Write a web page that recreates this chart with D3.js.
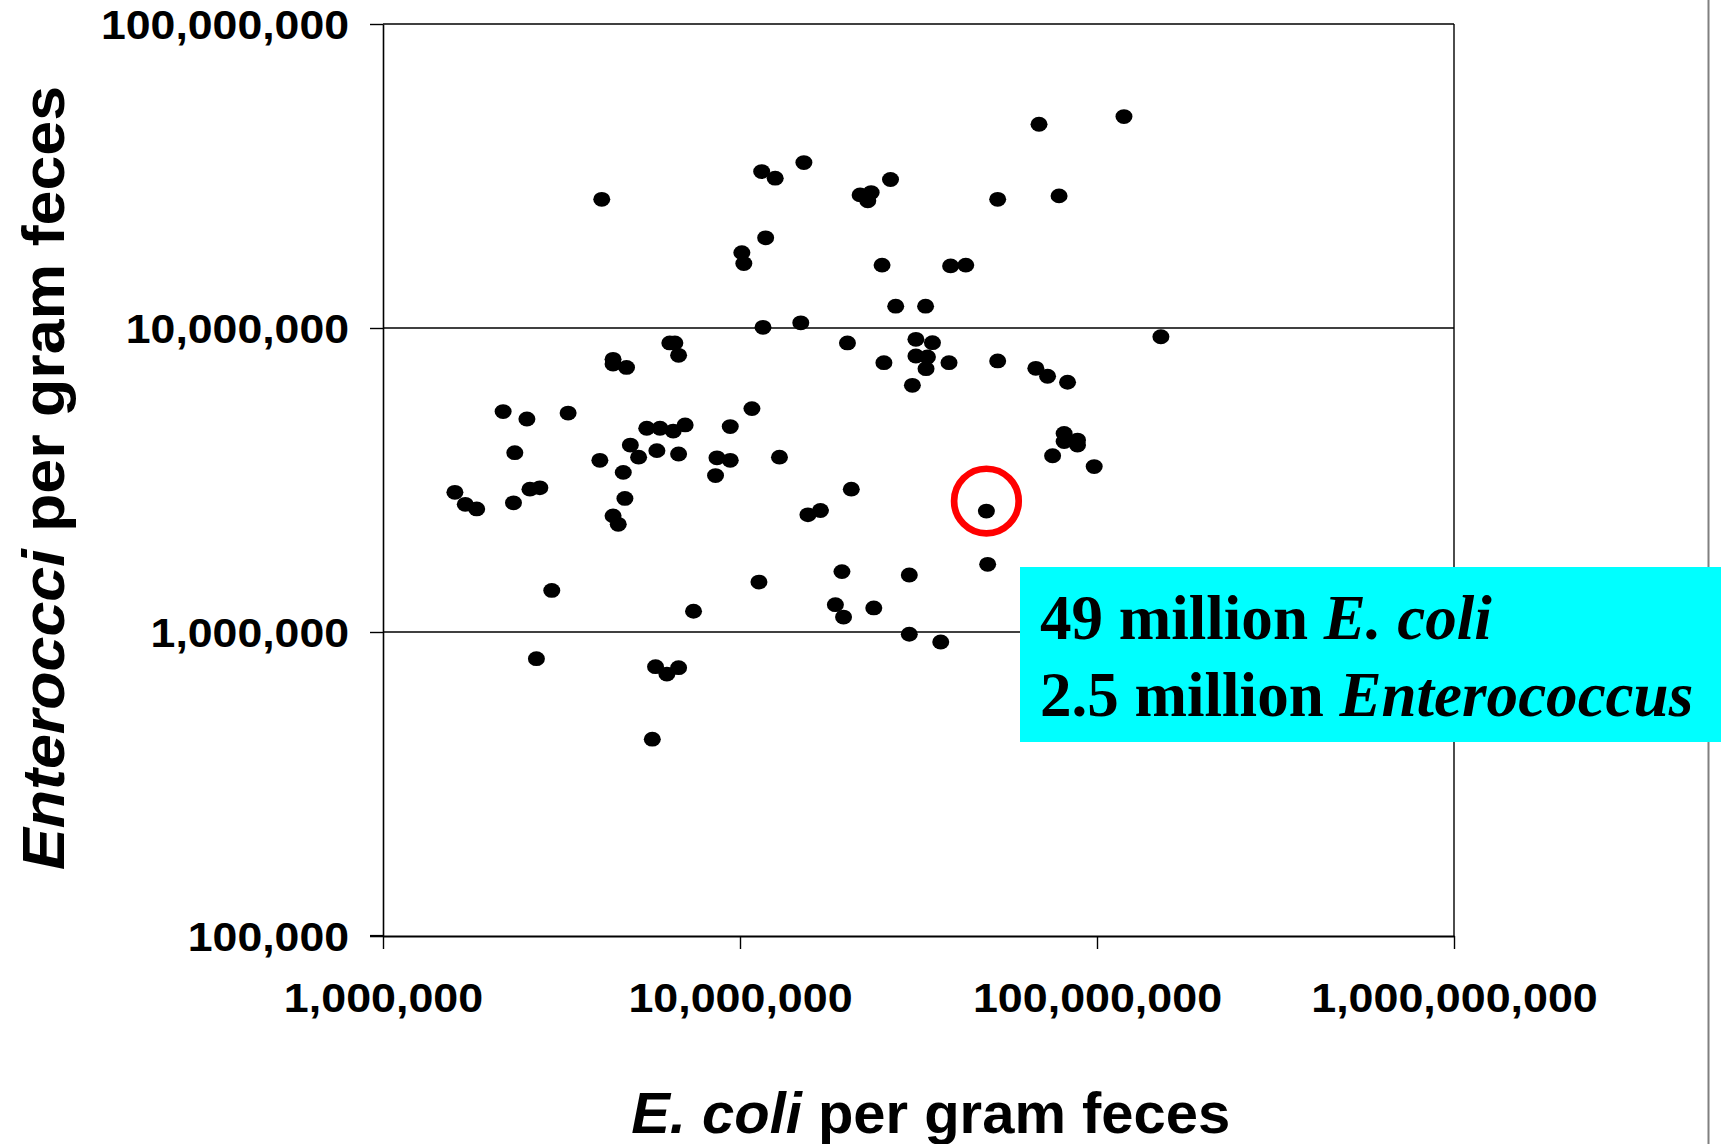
<!DOCTYPE html>
<html>
<head>
<meta charset="utf-8">
<script src="https://cdn.jsdelivr.net/npm/d3@7"></script>
<style>
  html, body { margin: 0; padding: 0; background: #fff; }
  svg { display: block; }
</style>
</head>
<body>
<svg id="chart" width="1721" height="1144"></svg>
<script>
// E. coli and enterococci counts per gram of feces, one entry per sample
const ecoli = [
  4.10e6, 1.15e7, 1.255e7, 1.51e7, 1.18e7, 1.012e7, 1.025e7, 1.16e7, 1.48e7, 2.00e7,
  6.36e6, 6.57e6, 6.73e6, 4.41e6, 4.41e6, 4.81e6, 2.17e6, 2.53e6, 3.30e6, 1.08e7,
  5.48e6, 5.97e6, 6.50e6, 7.02e6, 9.39e6, 2.34e6, 4.05e6, 4.93e6, 5.20e6, 5.85e6,
  6.73e6, 8.62e6, 9.39e6, 1.29e7, 4.71e6, 8.54e6, 1.59e6, 1.70e6, 1.83e6, 2.32e6,
  2.58e6, 2.75e6, 4.76e6, 4.41e6, 4.56e6, 1.55e7, 1.68e7, 2.05e7, 2.97e6, 1.13e7,
  1.93e7, 7.41e6, 1.85e7, 1.95e7, 2.69e6, 5.80e6, 6.24e6, 6.73e6, 5.68e6, 6.88e7,
  1.19e8, 2.17e7, 2.33e7, 2.28e7, 2.64e7, 5.27e7, 7.83e7, 2.50e7, 3.89e7, 4.29e7,
  2.73e7, 3.31e7, 3.11e7, 3.46e7, 2.53e7, 3.11e7, 3.35e7, 3.32e7, 3.85e7, 5.27e7,
  6.74e7, 7.27e7, 8.27e7, 3.04e7, 1.51e8, 8.09e7, 8.09e7, 8.82e7, 8.82e7, 7.51e7,
  9.82e7, 2.98e7, 4.94e7, 2.37e7, 2.98e7, 3.65e7
];
const enterococci = [
  2.65e7, 3.27e7, 3.11e7, 3.50e7, 1.98e7, 1.77e7, 1.63e7, 1.005e7, 1.04e7, 8.93e6,
  8.93e6, 8.93e6, 8.13e6, 7.89e6, 7.61e6, 7.42e6, 5.31e6, 5.02e6, 5.25e6, 5.43e6,
  4.68e6, 4.68e6, 4.58e6, 4.80e6, 4.74e6, 3.89e6, 3.67e6, 4.12e6, 3.76e6, 3.95e6,
  3.85e6, 3.74e6, 3.67e6, 3.76e6, 3.35e6, 3.27e6, 2.88e6, 2.63e6, 2.54e6, 2.66e6,
  2.95e6, 2.98e6, 2.75e6, 2.41e6, 2.26e6, 2.43e6, 2.51e6, 2.95e6, 1.37e6, 1.46e6,
  1.58e6, 1.17e6, 1.23e6, 1.12e6, 8.17e5, 7.69e5, 7.27e5, 7.63e5, 4.44e5, 4.68e7,
  4.96e7, 2.74e7, 2.79e7, 2.62e7, 3.08e7, 2.65e7, 2.72e7, 1.61e7, 1.60e7, 1.61e7,
  1.18e7, 1.18e7, 9.18e6, 8.95e6, 7.69e6, 8.09e6, 8.03e6, 7.35e6, 7.69e6, 7.79e6,
  7.37e6, 6.94e6, 6.63e6, 6.48e6, 9.36e6, 4.50e6, 4.23e6, 4.28e6, 4.12e6, 3.80e6,
  3.50e6, 1.54e6, 1.67e6, 1.20e6, 9.83e5, 9.27e5
];

// The sample singled out in the callout
const highlightEcoli = 49e6;
const highlightEntero = 2.5e6;

const xTicks = [1e6, 1e7, 1e8, 1e9];
const yTicks = [1e5, 1e6, 1e7, 1e8];

const calloutLines = [
  [{ t: "49 million ", it: false }, { t: "E. coli", it: true }],
  [{ t: "2.5 million ", it: false }, { t: "Enterococcus", it: true }]
];

const SANS = "'Liberation Sans', Arial, Helvetica, sans-serif";
const SERIF = "'Liberation Serif', 'Times New Roman', Times, serif";

const svg = d3.select("#chart");
svg.append("rect").attr("width", 1721).attr("height", 1144).attr("fill", "#fff");

const x = d3.scaleLog().domain([1e6, 1e9]).range([383, 1454]);
const y = d3.scaleLog().domain([1e5, 1e8]).range([936, 24]);
const fmt = d3.format(",");

// widen a text run horizontally by factor k
function stretch(sel, k) {
  sel.each(function () {
    const w = this.getComputedTextLength();
    this.setAttribute("textLength", (w * k).toFixed(1));
    this.setAttribute("lengthAdjust", "spacingAndGlyphs");
  });
}

// horizontal gridlines at each decade above the floor (top one closes the box)
svg.append("g")
  .selectAll("line")
  .data(yTicks.filter(d => d > 1e5))
  .join("line")
  .attr("x1", x(1e6)).attr("x2", x(1e9))
  .attr("y1", d => y(d)).attr("y2", d => y(d))
  .attr("stroke", "#000").attr("stroke-width", 1.4);

// right edge of the plot box
svg.append("line")
  .attr("x1", x(1e9)).attr("x2", x(1e9))
  .attr("y1", y(1e8)).attr("y2", y(1e5))
  .attr("stroke", "#000").attr("stroke-width", 1.4);

// y axis
const yAxis = svg.append("g")
  .attr("transform", `translate(${x(1e6)},0)`)
  .call(d3.axisLeft(y).tickValues(yTicks).tickFormat(fmt).tickSize(13).tickSizeOuter(0).tickPadding(21));
yAxis.select(".domain").attr("stroke-width", 1.6);
yAxis.selectAll(".tick line").attr("stroke-width", 1.4);
yAxis.selectAll(".tick text")
  .attr("dy", "0.36em")
  .style("font-family", SANS).style("font-weight", "bold").style("font-size", "40px").attr("fill", "#000");

// x axis
const xAxis = svg.append("g")
  .attr("transform", `translate(0,${y(1e5)})`)
  .call(d3.axisBottom(x).tickValues(xTicks).tickFormat(fmt).tickSize(13).tickSizeOuter(0));
xAxis.select(".domain").attr("stroke-width", 2.2);
xAxis.selectAll(".tick line").attr("stroke-width", 1.4);
xAxis.selectAll(".tick text")
  .attr("y", 76).attr("dy", 0)
  .style("font-family", SANS).style("font-weight", "bold").style("font-size", "40px").attr("fill", "#000");

stretch(yAxis.selectAll(".tick text"), 1.115);
stretch(xAxis.selectAll(".tick text"), 1.12);

// extend the floor line to meet the lowest y tick
svg.append("line")
  .attr("x1", x(1e6) - 13).attr("x2", x(1e6))
  .attr("y1", y(1e5)).attr("y2", y(1e5))
  .attr("stroke", "#000").attr("stroke-width", 2.2);

// sample points
const pts = ecoli.map((e, i) => ({ e, n: enterococci[i] }));
pts.push({ e: highlightEcoli, n: highlightEntero });
svg.append("g")
  .selectAll("ellipse")
  .data(pts)
  .join("ellipse")
  .attr("cx", d => x(d.e))
  .attr("cy", d => y(d.n))
  .attr("rx", 8.5).attr("ry", 7.4)
  .attr("fill", "#000");

// ring around the highlighted sample
svg.append("circle")
  .attr("cx", x(highlightEcoli))
  .attr("cy", y(highlightEntero) - 10)
  .attr("r", 32.3)
  .attr("fill", "none")
  .attr("stroke", "#ff0000")
  .attr("stroke-width", 6.7);

// axis titles
const xt = svg.append("text")
  .attr("x", 930.7).attr("y", 1133)
  .attr("text-anchor", "middle")
  .style("font-family", SANS).style("font-weight", "bold").style("font-size", "57px");
xt.append("tspan").style("font-style", "italic").text("E. coli");
xt.append("tspan").text(" per gram feces");
xt.attr("textLength", 599).attr("lengthAdjust", "spacingAndGlyphs");

const yt = svg.append("text")
  .attr("transform", "translate(63.5,478) rotate(-90)")
  .attr("text-anchor", "middle")
  .style("font-family", SANS).style("font-weight", "bold").style("font-size", "60px");
yt.append("tspan").style("font-style", "italic").text("Enteroccci");
yt.append("tspan").text(" per gram feces");
yt.attr("textLength", 784).attr("lengthAdjust", "spacingAndGlyphs");

// slide edge
svg.append("line")
  .attr("x1", 1708.5).attr("x2", 1708.5)
  .attr("y1", 0).attr("y2", 1144)
  .attr("stroke", "#808080").attr("stroke-width", 2);

// callout box
svg.append("rect")
  .attr("x", 1020).attr("y", 567)
  .attr("width", 701).attr("height", 175)
  .attr("fill", "#00ffff");

const callout = svg.append("g");
calloutLines.forEach((line, i) => {
  const t = callout.append("text")
    .attr("x", 1040).attr("y", 639 + i * 77)
    .style("font-family", SERIF).style("font-weight", "bold").style("font-size", "64px")
    .attr("fill", "#000");
  line.forEach(run => {
    t.append("tspan").style("font-style", run.it ? "italic" : "normal").text(run.t);
  });
  stretch(t, 0.985);
});
</script>
</body>
</html>
